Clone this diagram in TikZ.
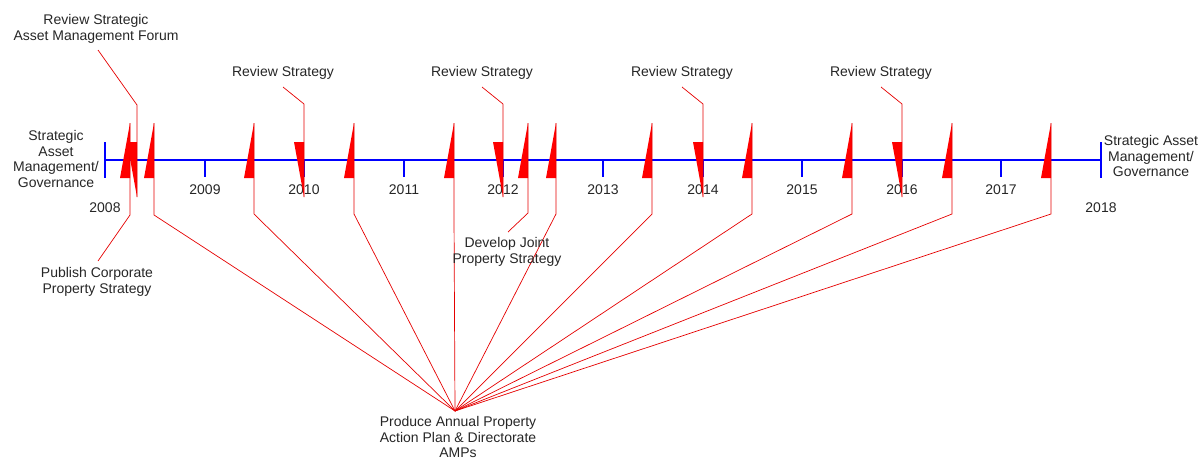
\documentclass[tikz,border=0pt]{standalone}
\usepackage{fontspec}
\setmainfont{Liberation Sans}
\usepackage{tikz}
\usetikzlibrary{positioning}
\tikzstyle{lbl} = [align=center, inner sep=0pt, text=black!85, font=\fontsize{14}{15.5}\selectfont]
\tikzstyle{axis} = [blue, line width=2.6pt]
\tikzstyle{tick} = [blue, line width=1.3pt]
\tikzstyle{flag} = [fill=red, draw=none]
\tikzstyle{lead} = [red!90!black, line width=0.7pt]

\begin{document}
\begin{tikzpicture}[x=1pt, y=-1pt]
\useasboundingbox (0,0) rectangle (1200,461);

% time axis
\coordinate (T0) at (105,160);
\coordinate (T10) at (1101,160);
\draw[axis] (T0) -- (T10);
\draw[tick] (105,142) -- (105,178);
\draw[tick] (1101,142) -- (1101,178);
\draw[tick] (205,160) -- (205,177);
\draw[tick] (304,160) -- (304,177);
\draw[tick] (404,160) -- (404,177);
\draw[tick] (503,160) -- (503,177);
\draw[tick] (603,160) -- (603,177);
\draw[tick] (703,160) -- (703,177);
\draw[tick] (802,160) -- (802,177);
\draw[tick] (902,160) -- (902,177);
\draw[tick] (1001,160) -- (1001,177);

\node(start)[lbl] at (56,159) {Strategic\\Asset\\Management/\\Governance};
\node(end)[lbl] at (1151,156) {Strategic Asset\\Management/\\Governance};

\node(Y2008)[lbl] at (105,208) {2008};
\node(Y2009)[lbl] at (205,190) {2009};
\node(Y2010)[lbl] at (304,190) {2010};
\node(Y2011)[lbl] at (404,190) {2011};
\node(Y2012)[lbl] at (503,190) {2012};
\node(Y2013)[lbl] at (603,190) {2013};
\node(Y2014)[lbl] at (703,190) {2014};
\node(Y2015)[lbl] at (802,190) {2015};
\node(Y2016)[lbl] at (902,190) {2016};
\node(Y2017)[lbl] at (1001,190) {2017};
\node(Y2018)[lbl] at (1101,208) {2018};

% annual plan
\node(plan)[lbl] at (458,437) {Produce Annual Property\\Action Plan \& Directorate\\AMPs};
\coordinate (hub) at (455,411);

\coordinate (P1) at (154,123);
\coordinate (P2) at (254,123);
\coordinate (P3) at (354,123);
\coordinate (P4) at (454,123);
\coordinate (P5) at (556,123);
\coordinate (P6) at (652,123);
\coordinate (P7) at (752,123);
\coordinate (P8) at (852,123);
\coordinate (P9) at (952,123);
\coordinate (P10) at (1051,123);

\fill[flag] (P1) -- ++(0,55) -- ++(-10,0) -- cycle;
\fill[flag] (P2) -- ++(0,55) -- ++(-10,0) -- cycle;
\fill[flag] (P3) -- ++(0,55) -- ++(-10,0) -- cycle;
\fill[flag] (P4) -- ++(0,55) -- ++(-10,0) -- cycle;
\fill[flag] (P5) -- ++(0,55) -- ++(-10,0) -- cycle;
\fill[flag] (P6) -- ++(0,55) -- ++(-10,0) -- cycle;
\fill[flag] (P7) -- ++(0,55) -- ++(-10,0) -- cycle;
\fill[flag] (P8) -- ++(0,55) -- ++(-10,0) -- cycle;
\fill[flag] (P9) -- ++(0,55) -- ++(-10,0) -- cycle;
\fill[flag] (P10) -- ++(0,55) -- ++(-10,0) -- cycle;

\draw[lead] (P1) -- ++(0,92) -- (hub);
\draw[lead] (P2) -- ++(0,91) -- (hub);
\draw[lead] (P3) -- ++(0,91) -- (hub);
\draw[lead] (P4) -- ++(0,91) -- (hub);
\draw[lead] (P5) -- ++(0,91) -- (hub);
\draw[lead] (P6) -- ++(0,91) -- (hub);
\draw[lead] (P7) -- ++(0,91) -- (hub);
\draw[lead] (P8) -- ++(0,91) -- (hub);
\draw[lead] (P9) -- ++(0,91) -- (hub);
\draw[lead] (P10) -- ++(0,91) -- (hub);

% corporate strategy
\node(publish)[lbl] at (97,282) {Publish Corporate\\Property Strategy};
\coordinate (pubend) at (98,261);
\coordinate (U1) at (130,123);
\fill[flag] (U1) -- ++(0,55) -- ++(-10,0) -- cycle;
\draw[lead] (U1) -- ++(0,92) -- (pubend);

% joint strategy
\node(joint)[lbl] at (507,252) {Develop Joint\\Property Strategy};
\coordinate (jointend) at (508,232);
\coordinate (U2) at (528,123);
\fill[flag] (U2) -- ++(0,55) -- ++(-10,0) -- cycle;
\draw[lead] (U2) -- ++(0,90) -- (jointend);

% forum
\node(forum)[lbl] at (96,29) {Review Strategic\\Asset Management Forum};
\coordinate (forumend) at (98,50);
\coordinate (D0) at (137,197);
\fill[flag] (D0) -- ++(0,-55) -- ++(-10,0) -- cycle;
\draw[lead] (D0) -- ++(0,-92) -- (forumend);

% strategy reviews
\node(R1)[lbl] at (283,73) {Review Strategy};
\node(R2)[lbl] at (482,73) {Review Strategy};
\node(R3)[lbl] at (682,73) {Review Strategy};
\node(R4)[lbl] at (881,73) {Review Strategy};
\coordinate (R1end) at (283,87);
\coordinate (R2end) at (482,87);
\coordinate (R3end) at (682,87);
\coordinate (R4end) at (881,87);

\coordinate (D1) at (304,197);
\coordinate (D2) at (503,197);
\coordinate (D3) at (703,197);
\coordinate (D4) at (902,197);
\fill[flag] (D1) -- ++(0,-55) -- ++(-10,0) -- cycle;
\fill[flag] (D2) -- ++(0,-55) -- ++(-10,0) -- cycle;
\fill[flag] (D3) -- ++(0,-55) -- ++(-10,0) -- cycle;
\fill[flag] (D4) -- ++(0,-55) -- ++(-10,0) -- cycle;
\draw[lead] (D1) -- ++(0,-93) -- (R1end);
\draw[lead] (D2) -- ++(0,-93) -- (R2end);
\draw[lead] (D3) -- ++(0,-93) -- (R3end);
\draw[lead] (D4) -- ++(0,-93) -- (R4end);

\end{tikzpicture}
\end{document}
